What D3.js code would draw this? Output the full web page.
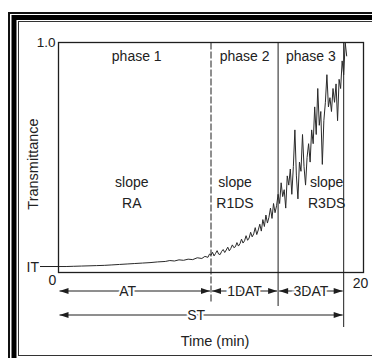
<!DOCTYPE html>
<html><head><meta charset="utf-8">
<script src="https://cdn.jsdelivr.net/npm/d3@7"></script>
<style>
html,body{margin:0;padding:0;background:#fff;}
svg{display:block;}
text{font-family:"Liberation Sans",Arial,sans-serif;fill:#222;}
</style></head>
<body>
<svg id="c" width="372" height="358"></svg>
<script>
// ---- data ----
const times = [0,0.5,1,1.5,2,2.5,3,3.5,4,4.5,5,5.5,6,6.5,7,7.3,7.6,7.9,8.2,8.5,8.8,9.1,9.4,9.6,9.8,9.9,
 10.0,10.1,10.2,10.3,10.4,10.5,10.6,10.7,10.8,10.9,11.0,11.1,11.2,11.3,11.4,11.5,11.6,11.7,11.8,11.9,
 12.0,12.1,12.2,12.3,12.4,12.5,12.6,12.7,12.8,12.9,13.0,13.1,13.2,13.3,13.4,13.5,13.6,13.7,13.8,13.9,
 14.0,14.1,14.2,14.3,14.4,14.5,14.6,14.7,14.8,14.9,15.0,15.1,15.2,15.3,15.4,15.5,15.6,15.7,15.8,15.9,
 16.0,16.1,16.2,16.3,16.4,16.5,16.6,16.7,16.8,16.9,17.0,17.1,17.2,17.3,17.4,17.5,17.6,17.7,17.8,17.9,
 18.0,18.1,18.2,18.3,18.4,18.5,18.6,18.7,18.8,18.9];
const transmittance = [0.026,0.026,0.027,0.028,0.029,0.030,0.031,0.033,0.035,0.037,0.039,0.041,0.043,0.046,0.048,0.052,0.050,0.055,0.053,0.058,0.056,0.064,0.061,0.070,0.066,0.080,
 0.075,0.088,0.072,0.083,0.095,0.080,0.078,0.092,0.100,0.087,0.098,0.110,0.094,0.105,0.120,0.108,0.112,0.130,0.115,0.125,
 0.145,0.128,0.138,0.160,0.140,0.150,0.175,0.155,0.168,0.195,0.165,0.185,0.210,0.180,0.230,0.200,0.250,0.215,0.240,0.280,
 0.235,0.300,0.260,0.290,0.340,
 0.300,0.390,0.330,0.360,0.280,0.420,0.380,0.450,0.340,0.460,0.620,0.420,0.320,0.480,0.440,
 0.600,0.460,0.380,0.500,0.560,0.480,0.620,0.560,0.720,0.600,0.800,0.640,0.700,0.470,0.660,0.740,0.860,0.720,0.760,0.700,
 0.800,0.740,0.820,0.660,0.840,0.800,0.920,0.860,1.000,0.940];
const phaseBounds = [0, 10, 14.4, 18.7];
const phaseLabels = ["phase 1", "phase 2", "phase 3"];
const slopeLabels = ["RA", "R1DS", "R3DS"];
const intervalLabels = ["AT", "1DAT", "3DAT"];
const totalLabel = "ST";
const xTickValues = [0, 20];
const xTickLabels = ["0", "20"];
const yTickValues = [1.0];
const yTickLabels = ["1.0"];
const initialLevel = 0.026;
const initialLabel = "IT";

// ---- drawing ----
const svg = d3.select("#c");
const ink = "#1e1e1e";

// frame
svg.append("rect").attr("x",9).attr("y",13).attr("width",380).attr("height",350)
  .attr("fill","none").attr("stroke","#111").attr("stroke-width",2);
svg.append("rect").attr("x",14).attr("y",17.5).attr("width",380).attr("height",350)
  .attr("fill","none").attr("stroke","#000").attr("stroke-width",5);
svg.append("rect").attr("x",18.5).attr("y",21.5).attr("width",380).attr("height",334)
  .attr("fill","none").attr("stroke","#333").attr("stroke-width",1);

const x = d3.scaleLinear().domain([0,20]).range([58.5,363.5]);
const y = d3.scaleLinear().domain([0,1]).range([272.5,42.5]);

// plot box
svg.append("rect").attr("x",x(0)).attr("y",y(1)).attr("width",x(20)-x(0)).attr("height",y(0)-y(1))
  .attr("fill","none").attr("stroke",ink).attr("stroke-width",1.3);

// phase lines
const lineBottoms = [302, 306, 327];
phaseBounds.slice(1).forEach((b,i)=>{
  svg.append("line").attr("x1",x(b)).attr("x2",x(b)).attr("y1",y(1)).attr("y2",lineBottoms[i])
    .attr("stroke",ink).attr("stroke-width",1)
    .attr("stroke-dasharray", i===0 ? "7,2" : null);
});

// phase labels & slope labels
phaseLabels.forEach((p,i)=>{
  const cx = (x(phaseBounds[i])+x(phaseBounds[i+1]))/2;
  svg.append("text").attr("x",cx + (i===0?2:0)).attr("y",61).attr("text-anchor","middle")
    .attr("font-size",14).text(p);
  const sx = i===0 ? cx-3 : (i===1 ? x(phaseBounds[i])+24 : x(phaseBounds[i+1])-17);
  svg.append("text").attr("x",sx).attr("y",187).attr("text-anchor","middle")
    .attr("font-size",14).text("slope");
  svg.append("text").attr("x",sx).attr("y",208).attr("text-anchor","middle")
    .attr("font-size",14).text(slopeLabels[i]);
});

// curve
const line = d3.line().x((d,i)=>x(times[i])).y(d=>y(d));
svg.append("path").datum(transmittance).attr("d",line)
  .attr("fill","none").attr("stroke","#2a2a2a").attr("stroke-width",1).attr("stroke-linejoin","round");

// IT marker
svg.append("line").attr("x1",40).attr("x2",x(0)).attr("y1",y(initialLevel)).attr("y2",y(initialLevel))
  .attr("stroke",ink).attr("stroke-width",1);
svg.append("text").attr("x",39).attr("y",y(initialLevel)+5).attr("text-anchor","end")
  .attr("font-size",14).text(initialLabel);

// tick labels
yTickValues.forEach((v,i)=>{
  svg.append("text").attr("x",x(0)-3).attr("y",y(v)+4).attr("text-anchor","end")
    .attr("font-size",13.5).text(yTickLabels[i]);
});
svg.append("text").attr("x",x(xTickValues[0])-6).attr("y",285).attr("text-anchor","middle")
  .attr("font-size",14).text(xTickLabels[0]);
svg.append("text").attr("x",x(xTickValues[1])-3).attr("y",288).attr("text-anchor","middle")
  .attr("font-size",14).text(xTickLabels[1]);

// axis titles
svg.append("text").attr("transform","translate(38,164) rotate(-90)").attr("text-anchor","middle")
  .attr("font-size",14.5).text("Transmittance");
svg.append("text").attr("x",215).attr("y",346).attr("text-anchor","middle")
  .attr("font-size",14.5).text("Time (min)");

// arrows
function arrowHead(px, py, dir){
  const L=9, H=3;
  svg.append("path").attr("d",`M${px},${py}L${px-dir*L},${py-H}L${px-dir*L},${py+H}Z`).attr("fill",ink);
}
function span(a, b, yy, label, cxOff){
  const x1=x(a)+1, x2=x(b)-1;
  svg.append("line").attr("x1",x1).attr("x2",x2).attr("y1",yy).attr("y2",yy)
    .attr("stroke",ink).attr("stroke-width",1);
  arrowHead(x1,yy,-1); arrowHead(x2,yy,1);
  svg.append("text").attr("x",(x1+x2)/2+(cxOff||0)).attr("y",yy+5).attr("text-anchor","middle")
    .attr("font-size",14).attr("stroke","#fff").attr("stroke-width",4).attr("paint-order","stroke")
    .text(label);
}
intervalLabels.forEach((l,i)=>span(phaseBounds[i],phaseBounds[i+1],291,l, i===0?-7:0));
span(phaseBounds[0],phaseBounds[3],315,totalLabel,-5);
</script>
</body></html>
